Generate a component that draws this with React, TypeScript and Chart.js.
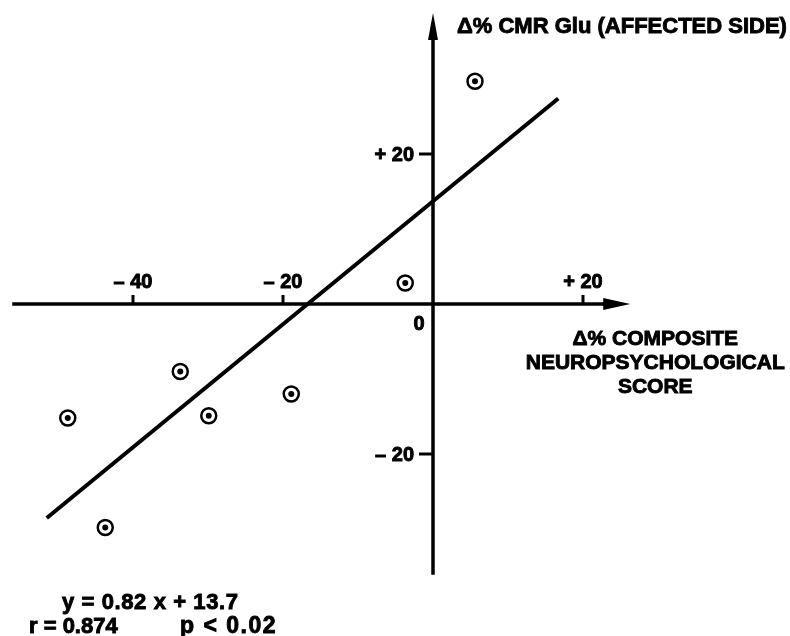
import React, { useEffect, useRef } from "react";
import { Chart, registerables } from "chart.js";

Chart.register(...registerables);

// Data points
const xValues = [5.6, -3.7, -33.7, -48.7, -29.9, -18.9, -43.7];
const yValues = [29.7, 2.8, -9.0, -15.2, -14.9, -12.0, -29.8];

// Regression line y = 0.82 x + 13.7 over the drawn x range
const slope = 0.82;
const intercept = 13.7;
const lineXRange = [-51.5, 16.7];

// Axis ticks
const xTicks = [-40, -20, 20];
const xTickLabels = ["– 40", "– 20", "+ 20"];
const yTicks = [20, -20];
const yTickLabels = ["+ 20", "– 20"];

// Axis extents (data units)
const xAxisExtent = [-56.1, 26.3];
const yAxisExtent = [-36.1, 38.8];

const yTitle = "Δ% CMR Glu (AFFECTED SIDE)";
const xTitleLines = ["Δ% COMPOSITE", "NEUROPSYCHOLOGICAL", "SCORE"];
const statLine1 = "y = 0.82 x + 13.7";
const statR = "r = 0.874";
const statP = "p < 0.02";

const FONT = "'Liberation Sans', Arial, Helvetica, sans-serif";
const INK = "#000";

function boldText(ctx: CanvasRenderingContext2D, t: string, x: number, y: number) {
  ctx.lineWidth = 0.9;
  ctx.strokeText(t, x, y);
  ctx.fillText(t, x, y);
}

const axesPlugin = {
  id: "customAxes",
  beforeDatasetsDraw(chart: any) {
    const ctx = chart.ctx as CanvasRenderingContext2D;
    const xs = chart.scales.x;
    const ys = chart.scales.y;
    const ox = xs.getPixelForValue(0);
    const oy = ys.getPixelForValue(0);
    ctx.save();
    ctx.strokeStyle = INK;
    ctx.fillStyle = INK;
    ctx.lineWidth = 3.5;
    ctx.lineCap = "butt";

    // x axis
    const xl = xs.getPixelForValue(xAxisExtent[0]);
    const xr = xs.getPixelForValue(xAxisExtent[1]);
    ctx.beginPath();
    ctx.moveTo(xl, oy);
    ctx.lineTo(xr - 20, oy);
    ctx.stroke();
    ctx.beginPath();
    ctx.moveTo(xr, oy);
    ctx.lineTo(xr - 27, oy - 6);
    ctx.lineTo(xr - 27, oy + 6);
    ctx.closePath();
    ctx.fill();

    // y axis
    const yb = ys.getPixelForValue(yAxisExtent[0]);
    const yt = ys.getPixelForValue(yAxisExtent[1]);
    ctx.beginPath();
    ctx.moveTo(ox, yb);
    ctx.lineTo(ox, yt + 20);
    ctx.stroke();
    ctx.beginPath();
    ctx.moveTo(ox, yt);
    ctx.lineTo(ox - 5, yt + 27);
    ctx.lineTo(ox + 5, yt + 27);
    ctx.closePath();
    ctx.fill();

    // x ticks
    ctx.font = `bold 20px ${FONT}`;
    ctx.textAlign = "center";
    ctx.textBaseline = "middle";
    xTicks.forEach((v, i) => {
      const px = xs.getPixelForValue(v);
      ctx.lineWidth = 3;
      ctx.beginPath();
      ctx.moveTo(px, oy);
      ctx.lineTo(px, oy - 9);
      ctx.stroke();
      boldText(ctx, xTickLabels[i], px, oy - 22);
    });

    // y ticks
    ctx.textAlign = "right";
    yTicks.forEach((v, i) => {
      const py = ys.getPixelForValue(v);
      ctx.lineWidth = 3;
      ctx.beginPath();
      ctx.moveTo(ox, py);
      ctx.lineTo(ox - 14, py);
      ctx.stroke();
      boldText(ctx, yTickLabels[i], ox - 19, py + 1);
    });

    // origin label
    ctx.textAlign = "center";
    boldText(ctx, "0", ox - 14, oy + 20);

    // y title
    ctx.font = `bold 22px ${FONT}`;
    ctx.textAlign = "left";
    boldText(ctx, yTitle, ox + 24, yt + 14);

    // x title
    ctx.font = `bold 21px ${FONT}`;
    ctx.textAlign = "center";
    xTitleLines.forEach((t, i) => {
      boldText(ctx, t, xr + 25, oy + 35 + i * 24);
    });

    // stats
    ctx.textAlign = "left";
    ctx.font = `bold 22px ${FONT}`;
    (ctx as any).letterSpacing = "0.6px";
    boldText(ctx, statLine1, 62, 603);
    (ctx as any).letterSpacing = "0px";
    boldText(ctx, statR, 29, 627);
    ctx.font = `bold 23px ${FONT}`;
    (ctx as any).letterSpacing = "1.5px";
    boldText(ctx, statP, 180, 627);
    (ctx as any).letterSpacing = "0px";
    ctx.restore();
  },
};

export default function App() {
  const ref = useRef<HTMLCanvasElement>(null);
  useEffect(() => {
    if (!ref.current) return;
    const points = xValues.map((x, i) => ({ x, y: yValues[i] }));
    const linePts = lineXRange.map((x) => ({ x, y: slope * x + intercept }));
    const pxPerUnit = 7.5;
    const originX = 433;
    const originY = 304;
    const W = 790;
    const H = 636;
    const xMin = -originX / pxPerUnit;
    const xMax = xMin + W / pxPerUnit;
    const yMax = originY / pxPerUnit;
    const yMin = yMax - H / pxPerUnit;
    const chart = new Chart(ref.current, {
      type: "scatter",
      data: {
        datasets: [
          {
            type: "line",
            data: linePts,
            borderColor: INK,
            borderWidth: 4,
            pointRadius: 0,
            fill: false,
            order: 3,
          } as any,
          {
            data: points,
            pointRadius: 7.5,
            pointBackgroundColor: "#fff",
            pointBorderColor: INK,
            pointBorderWidth: 2.5,
            order: 2,
          },
          {
            data: points,
            pointRadius: 3,
            pointBackgroundColor: INK,
            pointBorderColor: INK,
            pointBorderWidth: 0,
            order: 1,
          },
        ],
      },
      options: {
        animation: false,
        responsive: false,
        layout: { padding: 0, autoPadding: false },
        plugins: { legend: { display: false }, tooltip: { enabled: false }, title: { display: false } },
        scales: {
          x: { type: "linear", min: xMin, max: xMax, display: false },
          y: { type: "linear", min: yMin, max: yMax, display: false },
        },
      } as any,
      plugins: [axesPlugin],
    });
    return () => chart.destroy();
  }, []);
  return (
    <div style={{ position: "absolute", left: 0, top: 0, width: 790, height: 636, background: "#fff" }}>
      <canvas ref={ref} width={790} height={636} />
    </div>
  );
}
